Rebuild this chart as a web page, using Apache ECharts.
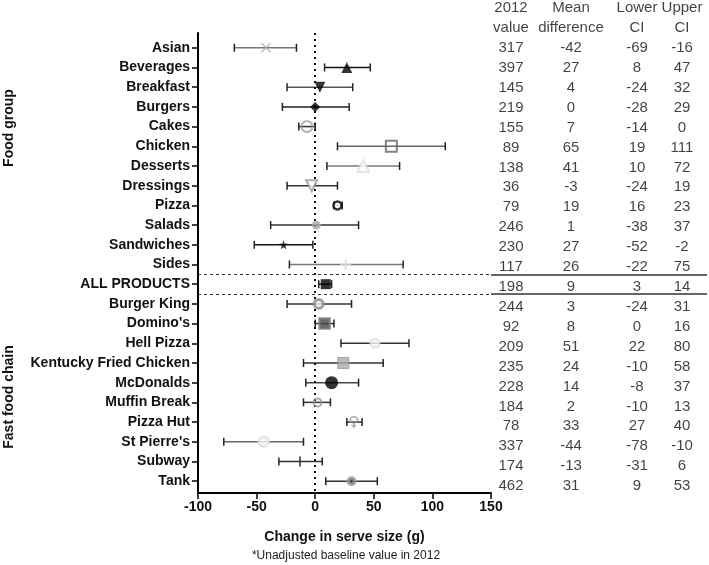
<!DOCTYPE html>
<html><head><meta charset="utf-8">
<script src="https://cdn.jsdelivr.net/npm/echarts@6/dist/echarts.min.js"></script>
<style>html,body{margin:0;padding:0;background:#fff}#c{width:709px;height:565px}</style>
</head><body><div id="c"></div>
<script>
// ---------- data ----------
const categories = ['Asian','Beverages','Breakfast','Burgers','Cakes','Chicken','Desserts','Dressings','Pizza','Salads','Sandwiches','Sides','ALL PRODUCTS','Burger King',"Domino's",'Hell Pizza','Kentucky Fried Chicken','McDonalds','Muffin Break','Pizza Hut',"St Pierre's",'Subway','Tank'];
const meanDiff   = [-42,27,4,0,-7,65,41,-3,19,1,-27,26,9,3,8,51,24,14,2,33,-44,-13,31];   // plotted position
const lowerCI    = [-69,8,-24,-28,-14,19,10,-24,16,-38,-52,-22,3,-24,0,22,-10,-8,-10,27,-78,-31,9];
const upperCI    = [-16,47,32,29,0,111,72,19,23,37,-2,75,14,31,16,80,58,37,13,40,-10,6,53];
const value2012  = [317,397,145,219,155,89,138,36,79,246,230,117,198,244,92,209,235,228,184,78,337,174,462];
const tableMeanDiff = [-42,27,4,0,7,65,41,-3,19,1,27,26,9,3,8,51,24,14,2,33,-44,-13,31]; // as printed in table
const tableHeaders1 = ['2012','Mean','Lower','Upper'];
const tableHeaders2 = ['value','difference','CI','CI'];
const xTicks = [-100,-50,0,50,100,150];
const separators = [11.5, 12.5];

// ---------- styles (separate from data) ----------
const FONT = '"Liberation Sans", Arial, sans-serif';
const P_X = 'path://M1,0 L5,4 L9,0 L10,1 L6,5 L10,9 L9,10 L5,6 L1,10 L0,9 L4,5 L0,1 Z';
const P_PLUS = 'path://M4,0 L6,0 L6,4 L10,4 L10,6 L6,6 L6,10 L4,10 L4,6 L0,6 L0,4 L4,4 Z';
const P_STAR = 'path://M5,0 L6.2,3.6 L10,3.6 L6.9,5.9 L8.1,9.5 L5,7.3 L1.9,9.5 L3.1,5.9 L0,3.6 L3.8,3.6 Z';
const P_BAR = 'path://M0,0 L1,0 L1,10 L0,10 Z';
const P_FEMALE = 'path://M5,0 A3.5,3.5 0 1 1 4.99,0 Z M5,1.4 A2.1,2.1 0 1 0 5.01,1.4 Z M4.3,6.8 L5.7,6.8 L5.7,8.2 L7,8.2 L7,9.3 L5.7,9.3 L5.7,11 L4.3,11 L4.3,9.3 L3,9.3 L3,8.2 L4.3,8.2 Z';
const markerStyles = [
  {s:P_X, z:10, c:'#aaa'},
  {s:'triangle', z:11, c:'#000'},
  {s:'triangle', z:11, c:'#000', r:180},
  {s:'diamond', z:10, c:'#000'},
  {s:'circle', z:11, c:'rgba(255,255,255,0)', b:'#999', bw:1.8},
  {s:'rect', z:11, c:'rgba(255,255,255,0)', b:'#666', bw:2},
  {s:'triangle', z:12, c:'#fff', b:'#ddd', bw:2},
  {s:'triangle', z:11, c:'#fff', b:'#999', bw:2, r:180},
  {s:'circle', z:8, c:'#fff', b:'#000', bw:2.5},
  {s:'circle', z:9, c:'#aaa'},
  {s:P_STAR, z:9, c:'#000'},
  {s:P_PLUS, z:11, c:'#ddd'},
  {s:'rect', z:10, c:'#000'},
  {s:'circle', z:9, c:'#eee', b:'#888', bw:3},
  {s:'rect', z:10, c:'#444', b:'#777', bw:2.5},
  {s:'circle', z:9, c:'#f5f5f5', b:'#ddd', bw:2},
  {s:'rect', z:11, c:'#aaa', b:'#999', bw:1},
  {s:'circle', z:13, c:'#000'},
  {s:'circle', z:8, c:'rgba(255,255,255,0)', b:'#999', bw:2},
  {s:P_FEMALE, z:[9,12], c:'#999'},
  {s:'circle', z:10, c:'#f5f5f5', b:'#ddd', bw:2.5},
  {s:P_BAR, z:[2,10], c:'#333'},
  {s:'circle', z:6, c:'#111', b:'#999', bw:4}
];
const barColors = ['#777','#111','#555','#222','#333','#666','#777','#333','#333','#333','#111','#777','#111','#333','#333','#333','#333','#444','#333','#333','#666','#333','#333'];
const colX = [20, 80, 146, 191];   // table column centres within table grid

// ---------- build ----------
const errData = categories.map((c, i) => [lowerCI[i], upperCI[i], i]);
const markData = categories.map((c, i) => {
  const m = markerStyles[i];
  return {
    name: c, value: [meanDiff[i], i], symbol: m.s, symbolSize: m.z, symbolRotate: m.r || 0,
    itemStyle: {color: m.c, borderColor: m.b || m.c, borderWidth: m.bw || 0}
  };
});
const tableData = [];
const cols = [value2012, tableMeanDiff, lowerCI, upperCI];
cols.forEach((arr, k) => arr.forEach((v, i) => tableData.push({value: [colX[k], i], name: String(v)})));
tableHeaders1.forEach((h, k) => tableData.push({value: [colX[k], -2], name: h}));
tableHeaders2.forEach((h, k) => tableData.push({value: [colX[k], -1], name: h}));

const chart = echarts.init(document.getElementById('c'));
chart.setOption({
  animation: false,
  backgroundColor: '#fff',
  textStyle: {fontFamily: FONT},
  grid: [
    {left: 198, right: 218, top: 33, bottom: 72},
    {left: 491, right: 2, top: 33, bottom: 72}
  ],
  xAxis: [
    {
      type: 'value', gridIndex: 0, min: -100, max: 150, interval: 50,
      axisLine: {onZero: false, lineStyle: {color: '#000', width: 2}},
      axisTick: {show: true, length: 6, lineStyle: {color: '#000', width: 1.5}},
      axisLabel: {color: '#111', fontSize: 14, fontWeight: 'bold', fontFamily: FONT, margin: 7,
        customValues: xTicks},
      splitLine: {show: false},
      name: 'Change in serve size (g)', nameLocation: 'middle', nameGap: 37,
      nameTextStyle: {color: '#111', fontSize: 14, fontWeight: 'bold', fontFamily: FONT}
    },
    {type: 'value', gridIndex: 1, min: 0, max: 216, show: false}
  ],
  yAxis: [
    {
      type: 'value', gridIndex: 0, inverse: true, min: -0.75, max: 22.6,
      axisLine: {show: true, onZero: false, lineStyle: {color: '#000', width: 2}},
      axisTick: {show: true, length: 6, lineStyle: {color: '#000', width: 1.5},
        customValues: categories.map((c, i) => i)},
      axisLabel: {color: '#111', fontSize: 14, fontWeight: 'bold', fontFamily: FONT, margin: 8,
        customValues: categories.map((c, i) => i),
        formatter: v => categories[Math.round(v)] || ''},
      splitLine: {show: false}
    },
    {type: 'value', gridIndex: 1, inverse: true, min: -0.75, max: 22.6, show: false},
    {type: 'value', gridIndex: 1, inverse: true, min: -0.75, max: 22.35, show: false}
  ],
  series: [
    {
      type: 'custom', xAxisIndex: 0, yAxisIndex: 0, z: 2, silent: true, clip: false,
      data: errData,
      encode: {x: [0, 1], y: 2},
      renderItem: function (params, api) {
        const i = api.value(2);
        const lo = api.coord([api.value(0), i]);
        const hi = api.coord([api.value(1), i]);
        const h = 4;
        const ls = {stroke: barColors[i], lineWidth: 1.5};
        const cs = {stroke: '#222', lineWidth: 1.5};
        return {type: 'group', children: [
          {type: 'line', shape: {x1: lo[0], y1: lo[1], x2: hi[0], y2: hi[1]}, style: ls},
          {type: 'line', shape: {x1: lo[0], y1: lo[1] - h, x2: lo[0], y2: lo[1] + h}, style: cs},
          {type: 'line', shape: {x1: hi[0], y1: hi[1] - h, x2: hi[0], y2: hi[1] + h}, style: cs}
        ]};
      },
      markLine: {
        silent: true, symbol: 'none', label: {show: false}, animation: false,
        data: [
          {xAxis: 0, lineStyle: {color: '#111', width: 2, type: [2, 4]}},
          ...separators.map(s => ({yAxis: s, lineStyle: {color: '#333', width: 1, type: [3, 3]}}))
        ]
      }
    },
    {
      type: 'scatter', xAxisIndex: 0, yAxisIndex: 0, z: 5, silent: true, clip: false,
      data: markData
    },
    {
      type: 'scatter', xAxisIndex: 1, yAxisIndex: 1, silent: true, symbolSize: 0,
      data: [],
      markLine: {
        silent: true, symbol: 'none', label: {show: false}, animation: false,
        lineStyle: {color: '#333', width: 1.5, type: 'solid'},
        data: separators.map(s => ({yAxis: s}))
      }
    },
    {
      type: 'scatter', xAxisIndex: 1, yAxisIndex: 2, silent: true, clip: false,
      symbolSize: 1, itemStyle: {color: 'rgba(0,0,0,0)'},
      data: tableData,
      label: {show: true, position: 'inside', formatter: p => p.name,
        color: '#111', fontSize: 15, fontFamily: FONT, align: 'center', verticalAlign: 'middle'}
    }
  ],
  graphic: [
    {type: 'text', x: 9, y: 128, rotation: Math.PI / 2,
      style: {text: 'Food group', font: 'bold 14px ' + FONT, fill: '#111', align: 'center', verticalAlign: 'middle'}},
    {type: 'text', x: 9, y: 397, rotation: Math.PI / 2,
      style: {text: 'Fast food chain', font: 'bold 14px ' + FONT, fill: '#111', align: 'center', verticalAlign: 'middle'}},
    {type: 'text', x: 346, y: 556,
      style: {text: '*Unadjusted baseline value in 2012', font: '12px ' + FONT, fill: '#222', align: 'center', verticalAlign: 'middle'}}
  ]
});
</script>
</body></html>
